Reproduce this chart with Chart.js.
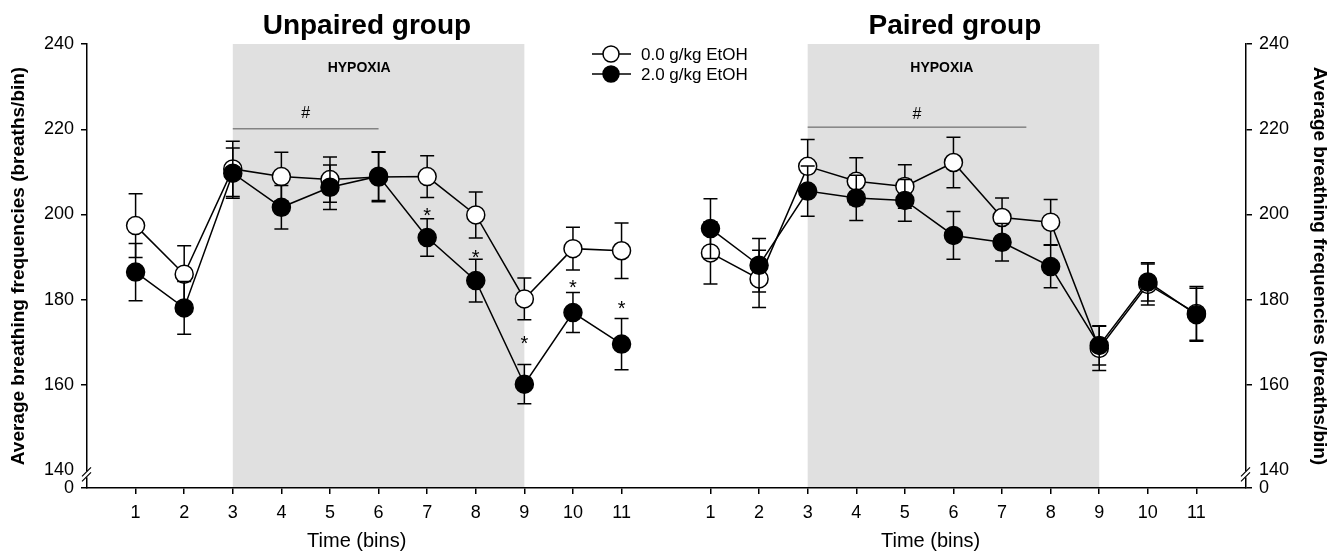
<!DOCTYPE html>
<html>
<head>
<meta charset="utf-8">
<script src="https://cdn.jsdelivr.net/npm/chart.js@4.4.0/dist/chart.umd.min.js"></script>
<style>
  html, body { margin: 0; padding: 0; background: #fff; }
  #wrap { width: 1338px; height: 555px; }
</style>
</head>
<body>
<div id="wrap"><canvas id="chart" width="1338" height="555"></canvas></div>
<script>
const bins = [1, 2, 3, 4, 5, 6, 7, 8, 9, 10, 11];
const yTicks = [140, 160, 180, 200, 220, 240];

// Unpaired group (mean, SEM)
const unpairedControl    = [197.4, 186.0, 210.7, 208.9, 208.2, 208.8, 208.9, 199.9, 180.2, 192.0, 191.5];
const unpairedControlSem = [7.5, 6.7, 6.5, 5.7, 5.3, 5.8, 4.9, 5.4, 4.9, 5.0, 6.5];
const unpairedEtoh       = [186.5, 178.1, 209.7, 201.7, 206.4, 209.0, 194.6, 184.5, 160.2, 177.0, 169.6];
const unpairedEtohSem    = [6.7, 6.2, 5.9, 5.1, 5.2, 5.7, 4.4, 5.0, 4.6, 4.7, 6.0];

// Paired group (mean, SEM)
const pairedControl    = [191.0, 184.9, 211.3, 207.8, 206.6, 212.2, 199.3, 198.2, 168.6, 183.6, 176.8];
const pairedControlSem = [7.3, 6.7, 6.3, 5.5, 5.1, 5.9, 4.6, 5.3, 5.2, 4.8, 6.3];
const pairedEtoh       = [196.7, 188.1, 205.5, 203.9, 203.3, 195.1, 193.5, 187.8, 169.3, 184.2, 176.5];
const pairedEtohSem    = [7.0, 6.3, 5.9, 5.3, 4.9, 5.6, 4.4, 5.0, 4.6, 4.5, 6.2];

// significance marks
const starBins = [7, 8, 9, 10, 11];
const starValues = [201.1, 191.3, 171.0, 184.1, 179.2];
const hypoxiaBins = [3, 9];
const unpairedHash = { from: 3, to: 6, y: 220.1, label: 223.7 };
const pairedHash = { from: 3, to: 7.5, y: 220.5, label: 223.5 };

const legendLabels = ['0.0 g/kg EtOH', '2.0 g/kg EtOH'];

// layout of the two panels on one x scale
const PAIRED_OFFSET = 11.83;
const X_MAX = 23.85;
const Y_MIN = 135.85;
const FONT = "'Liberation Sans', Arial, sans-serif";

Chart.defaults.font.family = FONT;
Chart.defaults.color = '#000';

function points(vals, offset) {
  return bins.map((b, i) => ({ x: b + offset, y: vals[i] }));
}

function makeSet(label, vals, sem, offset, filled) {
  return {
    label: label,
    data: points(vals, offset),
    sem: sem,
    borderColor: '#000',
    borderWidth: 1.5,
    pointRadius: 9,
    pointHoverRadius: 9,
    pointBorderWidth: 1.5,
    pointBorderColor: '#000',
    pointBackgroundColor: filled ? '#000' : '#fff',
    backgroundColor: filled ? '#000' : '#fff',
    tension: 0,
    fill: false,
    order: filled ? 0 : 1
  };
}

// grey hypoxia blocks behind everything
const hypoxiaShade = {
  id: 'hypoxiaShade',
  beforeDraw(chart) {
    const { ctx, chartArea, scales: { x } } = chart;
    ctx.save();
    ctx.fillStyle = '#e0e0e0';
    [0, PAIRED_OFFSET].forEach(off => {
      const x0 = x.getPixelForValue(hypoxiaBins[0] + off);
      const x1 = x.getPixelForValue(hypoxiaBins[1] + off);
      ctx.fillRect(x0, chartArea.top, x1 - x0, chartArea.bottom - chartArea.top);
    });
    ctx.restore();
  }
};

// SEM bars drawn just under each series
const errorBars = {
  id: 'errorBars',
  beforeDatasetDraw(chart, args) {
    const ds = chart.data.datasets[args.index];
    if (!ds.sem) return;
    const { ctx, scales: { x, y } } = chart;
    ctx.save();
    ctx.strokeStyle = '#000';
    ctx.lineWidth = 1.5;
    ds.data.forEach((p, i) => {
      const px = x.getPixelForValue(p.x);
      const top = y.getPixelForValue(p.y + ds.sem[i]);
      const bot = y.getPixelForValue(p.y - ds.sem[i]);
      ctx.beginPath();
      ctx.moveTo(px, top); ctx.lineTo(px, bot);
      ctx.moveTo(px - 7, top); ctx.lineTo(px + 7, top);
      ctx.moveTo(px - 7, bot); ctx.lineTo(px + 7, bot);
      ctx.stroke();
    });
    ctx.restore();
  }
};

// texts, marks, legend and axis breaks
const decorations = {
  id: 'decorations',
  afterDraw(chart) {
    const { ctx, chartArea, scales: { x, y } } = chart;
    ctx.save();
    ctx.fillStyle = '#000';
    ctx.textAlign = 'center';

    // panel titles
    ctx.font = 'bold 28px ' + FONT;
    ctx.textBaseline = 'alphabetic';
    ctx.fillText('Unpaired group', x.getPixelForValue(5.76), 34);
    ctx.fillText('Paired group', x.getPixelForValue(6.03 + PAIRED_OFFSET), 34);

    // HYPOXIA labels
    ctx.font = 'bold 14px ' + FONT;
    ctx.textBaseline = 'middle';
    ctx.fillText('HYPOXIA', x.getPixelForValue(5.6), 68);
    ctx.fillText('HYPOXIA', x.getPixelForValue(5.76 + PAIRED_OFFSET), 68);

    // time axis titles
    ctx.font = '20px ' + FONT;
    ctx.fillText('Time (bins)', x.getPixelForValue(5.55), 541);
    ctx.fillText('Time (bins)', x.getPixelForValue(5.53 + PAIRED_OFFSET), 541);

    // # bars
    [[unpairedHash, 0], [pairedHash, PAIRED_OFFSET]].forEach(([h, off]) => {
      const x0 = x.getPixelForValue(h.from + off);
      const x1 = x.getPixelForValue(h.to + off);
      const py = y.getPixelForValue(h.y);
      ctx.strokeStyle = '#555';
      ctx.lineWidth = 1;
      ctx.beginPath();
      ctx.moveTo(x0, py); ctx.lineTo(x1, py);
      ctx.stroke();
      ctx.font = '16px ' + FONT;
      ctx.textBaseline = 'middle';
      ctx.fillText('#', (x0 + x1) / 2, y.getPixelForValue(h.label));
    });

    // asterisks
    ctx.font = '20px ' + FONT;
    ctx.textBaseline = 'alphabetic';
    starBins.forEach((b, i) => {
      ctx.fillText('*', x.getPixelForValue(b), y.getPixelForValue(starValues[i]) + 12);
    });

    // legend
    const lx = 611, rows = [54, 74];
    rows.forEach((ry, i) => {
      ctx.strokeStyle = '#000';
      ctx.lineWidth = 1.5;
      ctx.beginPath();
      ctx.moveTo(lx - 19, ry); ctx.lineTo(lx + 20, ry);
      ctx.stroke();
      ctx.beginPath();
      ctx.arc(lx, ry, 8, 0, Math.PI * 2);
      ctx.fillStyle = i === 0 ? '#fff' : '#000';
      ctx.fill();
      ctx.stroke();
      ctx.fillStyle = '#000';
      ctx.font = '17px ' + FONT;
      ctx.textAlign = 'left';
      ctx.textBaseline = 'middle';
      ctx.fillText(legendLabels[i], lx + 30, ry + 1);
      ctx.textAlign = 'center';
    });

    // axis breaks
    const py = y.getPixelForValue(140);
    [chartArea.left, chartArea.right].forEach(ax => {
      ctx.fillStyle = '#fff';
      ctx.fillRect(ax - 2, py + 1, 4, 6);
      ctx.strokeStyle = '#000';
      ctx.lineWidth = 1.2;
      ctx.beginPath();
      ctx.moveTo(ax - 5, py + 6); ctx.lineTo(ax + 4, py - 3);
      ctx.moveTo(ax - 5, py + 11); ctx.lineTo(ax + 4, py + 2);
      ctx.stroke();
    });
    ctx.restore();
  }
};

function yAxis(position, width) {
  return {
    type: 'linear',
    position: position,
    min: Y_MIN,
    max: 240,
    afterBuildTicks: s => { s.ticks = [{ value: Y_MIN }].concat(yTicks.map(v => ({ value: v }))); },
    afterFit: s => { s.width = width; },
    ticks: {
      autoSkip: false,
      padding: 7,
      font: { size: 18 },
      color: '#000',
      callback: v => (v < 140 ? '0' : v)
    },
    grid: {
      drawOnChartArea: false,
      drawTicks: true,
      tickLength: 6,
      lineWidth: 1.5,
      color: c => (c.tick && c.tick.value === 140 ? 'rgba(0,0,0,0)' : '#000')
    },
    border: { display: true, color: '#000', width: 1.5 },
    title: {
      display: true,
      text: 'Average breathing frequencies (breaths/bin)',
      font: { size: 19, weight: 'bold' },
      color: '#000',
      padding: { top: 7, bottom: 0 }
    }
  };
}

new Chart(document.getElementById('chart'), {
  type: 'line',
  data: {
    datasets: [
      makeSet(legendLabels[0], unpairedControl, unpairedControlSem, 0, false),
      makeSet(legendLabels[1], unpairedEtoh, unpairedEtohSem, 0, true),
      makeSet(legendLabels[0], pairedControl, pairedControlSem, PAIRED_OFFSET, false),
      makeSet(legendLabels[1], pairedEtoh, pairedEtohSem, PAIRED_OFFSET, true)
    ]
  },
  options: {
    responsive: false,
    animation: false,
    layout: { padding: { top: 44, left: 0, right: 0, bottom: 0 } },
    plugins: {
      legend: { display: false },
      tooltip: { enabled: false }
    },
    scales: {
      x: {
        type: 'linear',
        min: 0,
        max: X_MAX,
        afterBuildTicks: s => {
          s.ticks = bins.map(b => ({ value: b })).concat(bins.map(b => ({ value: b + PAIRED_OFFSET })));
        },
        afterFit: s => { s.height = 67; },
        ticks: {
          autoSkip: false,
          maxRotation: 0,
          padding: 8,
          font: { size: 18 },
          color: '#000',
          callback: v => (v > 12 ? Math.round(v - PAIRED_OFFSET) : v)
        },
        grid: { drawOnChartArea: false, drawTicks: true, tickLength: 6, lineWidth: 1.5, color: '#000' },
        border: { display: true, color: '#000', width: 1.5 }
      },
      y: yAxis('left', 87),
      y2: yAxis('right', 92)
    }
  },
  plugins: [hypoxiaShade, errorBars, decorations]
});
</script>
</body>
</html>
